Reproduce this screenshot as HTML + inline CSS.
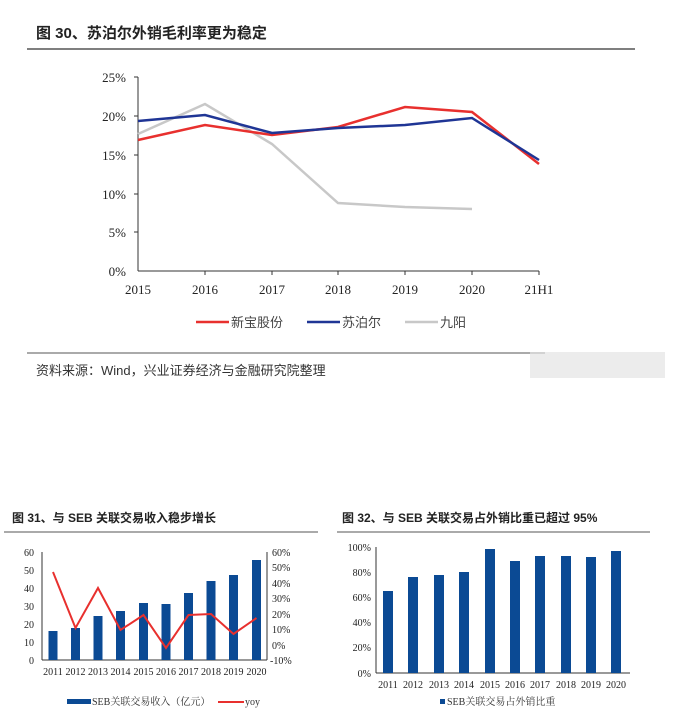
<!DOCTYPE html>
<html><head><meta charset="utf-8"><style>
body{margin:0;background:#fff;width:677px;height:711px;overflow:hidden}
svg{display:block}
.cn{font-family:"Liberation Sans","Noto Sans CJK SC",sans-serif}
.sf{font-family:"Liberation Serif","Noto Serif CJK SC",serif}
</style></head><body>
<svg width="677" height="711" xmlns="http://www.w3.org/2000/svg">
<!-- Chart 30 -->
<text x="36" y="38" class="cn" font-size="15" font-weight="bold" fill="#222">图 30、苏泊尔外销毛利率更为稳定</text>
<line x1="27" y1="49" x2="635" y2="49" stroke="#555" stroke-width="1.5"/>
<g class="sf" font-size="13" fill="#222" text-anchor="end">
<text x="126" y="82">25%</text><text x="126" y="121">20%</text><text x="126" y="160">15%</text>
<text x="126" y="199">10%</text><text x="126" y="237">5%</text><text x="126" y="276">0%</text>
</g>
<line x1="138" y1="77" x2="138" y2="271" stroke="#333"/>
<line x1="138" y1="271" x2="539" y2="271" stroke="#333"/>
<g stroke="#333"><line x1="134" y1="77" x2="138" y2="77"/><line x1="134" y1="116" x2="138" y2="116"/><line x1="134" y1="155" x2="138" y2="155"/><line x1="134" y1="194" x2="138" y2="194"/><line x1="134" y1="232" x2="138" y2="232"/>
<line x1="205" y1="271" x2="205" y2="275"/><line x1="272" y1="271" x2="272" y2="275"/><line x1="338" y1="271" x2="338" y2="275"/><line x1="405" y1="271" x2="405" y2="275"/><line x1="472" y1="271" x2="472" y2="275"/><line x1="539" y1="271" x2="539" y2="275"/></g>
<g class="sf" font-size="13" fill="#222" text-anchor="middle">
<text x="138" y="294">2015</text><text x="205" y="294">2016</text><text x="272" y="294">2017</text><text x="338" y="294">2018</text><text x="405" y="294">2019</text><text x="472" y="294">2020</text><text x="539" y="294">21H1</text>
</g>
<!-- y = 271 - v*7.76 -->
<polyline fill="none" stroke="#c8c8c8" stroke-width="2.5" points="138,134 205,104 272,144 338,203 405,207 472,209"/>
<polyline fill="none" stroke="#e8302e" stroke-width="2.5" points="138,140 205,125 272,135 338,127 405,107 472,112 539,164"/>
<polyline fill="none" stroke="#1f3595" stroke-width="2.5" points="138,121 205,115 272,133 338,128 405,125 472,118 539,160"/>
<line x1="196" y1="322" x2="229" y2="322" stroke="#e8302e" stroke-width="2.5"/>
<text x="231" y="327" class="cn" font-size="13" fill="#444">新宝股份</text>
<line x1="307" y1="322" x2="340" y2="322" stroke="#1f3595" stroke-width="2.5"/>
<text x="342" y="327" class="cn" font-size="13" fill="#444">苏泊尔</text>
<line x1="405" y1="322" x2="438" y2="322" stroke="#c8c8c8" stroke-width="2.5"/>
<text x="440" y="327" class="cn" font-size="13" fill="#444">九阳</text>
<line x1="27" y1="353" x2="545" y2="353" stroke="#555" stroke-width="1"/>
<text x="36" y="375" class="cn" font-size="13" fill="#333">资料来源：Wind，兴业证券经济与金融研究院整理</text>
<rect x="530" y="352" width="135" height="26" fill="#e4e4e4" opacity="0.7"/>

<!-- Chart 31 -->
<text x="12" y="522" class="cn" font-size="12" font-weight="bold" fill="#222">图 31、与 SEB 关联交易收入稳步增长</text>
<line x1="4" y1="532" x2="318" y2="532" stroke="#555"/>
<g class="sf" font-size="10" fill="#222" text-anchor="end">
<text x="34" y="556">60</text><text x="34" y="574">50</text><text x="34" y="592">40</text><text x="34" y="610">30</text><text x="34" y="628">20</text><text x="34" y="646">10</text><text x="34" y="664">0</text>
</g>
<g class="sf" font-size="10" fill="#222">
<text x="272" y="556">60%</text><text x="272" y="571">50%</text><text x="272" y="587">40%</text><text x="272" y="602">30%</text><text x="272" y="618">20%</text><text x="272" y="633">10%</text><text x="272" y="649">0%</text><text x="270" y="664">-10%</text>
</g>
<line x1="42" y1="552" x2="42" y2="660" stroke="#333"/>
<line x1="267" y1="552" x2="267" y2="660" stroke="#333"/>
<line x1="42" y1="660" x2="267" y2="660" stroke="#333"/>
<g fill="#0b4a94">
<!-- y=660-v*1.8 -->
<rect x="48.5" y="631" width="9" height="29"/><rect x="71" y="628" width="9" height="32"/><rect x="93.5" y="616" width="9" height="44"/><rect x="116" y="611" width="9" height="49"/><rect x="139" y="603" width="9" height="57"/><rect x="161.5" y="604" width="9" height="56"/><rect x="184" y="593" width="9" height="67"/><rect x="206.5" y="581" width="9" height="79"/><rect x="229" y="575" width="9" height="85"/><rect x="252" y="560" width="9" height="100"/>
</g>
<!-- y = 644.6 - v*1.543 -->
<polyline fill="none" stroke="#e8302e" stroke-width="2" points="53,572 75.5,628 98,588 120.5,630 143.5,615 166,648 188.5,615 211,614 233.5,634 256.5,618"/>
<g class="sf" font-size="10" fill="#222" text-anchor="middle">
<text x="53" y="675">2011</text><text x="75.5" y="675">2012</text><text x="98" y="675">2013</text><text x="120.5" y="675">2014</text><text x="143.5" y="675">2015</text><text x="166" y="675">2016</text><text x="188.5" y="675">2017</text><text x="211" y="675">2018</text><text x="233.5" y="675">2019</text><text x="256.5" y="675">2020</text>
</g>
<rect x="67" y="699" width="24" height="5" fill="#0b4a94"/>
<text x="92" y="705" class="sf" font-size="10" fill="#333">SEB关联交易收入（亿元）</text>
<line x1="218" y1="702" x2="244" y2="702" stroke="#e8302e" stroke-width="2"/>
<text x="245" y="705" class="sf" font-size="10" fill="#333">yoy</text>

<!-- Chart 32 -->
<text x="342" y="522" class="cn" font-size="12" font-weight="bold" fill="#222">图 32、与 SEB 关联交易占外销比重已超过 95%</text>
<line x1="337" y1="532" x2="650" y2="532" stroke="#555"/>
<g class="sf" font-size="10" fill="#222" text-anchor="end">
<text x="371" y="551">100%</text><text x="371" y="576">80%</text><text x="371" y="601">60%</text><text x="371" y="626">40%</text><text x="371" y="651">20%</text><text x="371" y="677">0%</text>
</g>
<line x1="376" y1="547" x2="376" y2="673" stroke="#333"/>
<line x1="376" y1="673" x2="630" y2="673" stroke="#333"/>
<g fill="#0b4a94">
<!-- y=673-v*1.26 -->
<rect x="383" y="591" width="10" height="82"/><rect x="408" y="577" width="10" height="96"/><rect x="434" y="575" width="10" height="98"/><rect x="459" y="572" width="10" height="101"/><rect x="485" y="549" width="10" height="124"/><rect x="510" y="561" width="10" height="112"/><rect x="535" y="556" width="10" height="117"/><rect x="561" y="556" width="10" height="117"/><rect x="586" y="557" width="10" height="116"/><rect x="611" y="551" width="10" height="122"/>
</g>
<g class="sf" font-size="10" fill="#222" text-anchor="middle">
<text x="388" y="688">2011</text><text x="413" y="688">2012</text><text x="439" y="688">2013</text><text x="464" y="688">2014</text><text x="490" y="688">2015</text><text x="515" y="688">2016</text><text x="540" y="688">2017</text><text x="566" y="688">2018</text><text x="591" y="688">2019</text><text x="616" y="688">2020</text>
</g>
<rect x="440" y="699" width="5" height="5" fill="#0b4a94"/>
<text x="447" y="705" class="sf" font-size="10" fill="#333">SEB关联交易占外销比重</text>
</svg>
</body></html>
